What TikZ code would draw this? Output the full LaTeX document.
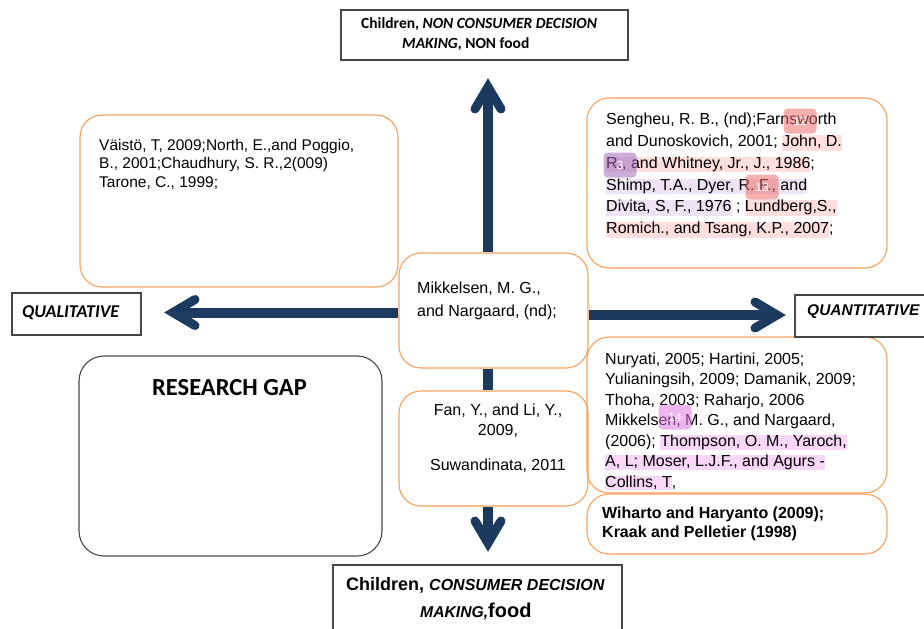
\documentclass[tikz,border=0pt]{standalone}
\usepackage{fontspec}
\setmainfont{Liberation Sans}
\newfontfamily\calibri{Carlito}
\definecolor{navy}{RGB}{28,58,96}
\definecolor{orng}{RGB}{248,160,90}
\definecolor{bord}{RGB}{70,70,70}
\definecolor{hlPink}{RGB}{255,222,222}
\definecolor{hlLav}{RGB}{238,228,245}
\definecolor{hlMag}{RGB}{250,215,248}
\definecolor{bRed}{RGB}{235,110,110}
\definecolor{bPur}{RGB}{160,110,190}
\definecolor{bMag}{RGB}{225,120,225}
\newcommand\stA{\rule[-4pt]{0pt}{15pt}}
\newcommand\stB{\rule[-2.5pt]{0pt}{12.5pt}}
\newcommand\hlA[2]{{\setlength{\fboxsep}{0pt}\colorbox{#1}{\stA#2}}}
\newcommand\hlB[2]{{\setlength{\fboxsep}{0pt}\colorbox{#1}{\stB#2}}}
\begin{document}
\begin{tikzpicture}[x=1pt,y=-1pt,
 obox/.style={draw=orng,line width=1.1pt,rounded corners=22pt,inner sep=0pt},
 kbox/.style={draw=bord,line width=1.1pt,inner sep=0pt},
 txt/.style={inner sep=0pt,align=left},
 shaft/.style={draw=navy,line width=10pt},
 chev/.style={draw=navy,line width=9pt,line cap=round,line join=miter},
 badge/.style={rounded corners=4pt,inner sep=0pt,minimum width=33pt,minimum height=25pt,fill opacity=0.55,text opacity=1,text=white,font=\fontsize{12}{12}\selectfont}
]
\useasboundingbox (0,0) rectangle (924,629);
\clip (0,0) rectangle (924,629);

% boxes
\node[kbox,minimum width=287pt,minimum height=50pt] (tb) at (484.5,35) {};
\node[obox,minimum width=318pt,minimum height=172pt] (ul) at (239,201) {};
\node[obox,minimum width=300pt,minimum height=170pt] (ur) at (737,183) {};
\node[obox,minimum width=189pt,minimum height=115pt] (ctr) at (493.5,310.5) {};
\node[obox,minimum width=189pt,minimum height=115pt] (fan) at (493.5,448.5) {};
\node[obox,minimum width=300pt,minimum height=156pt] (nur) at (737,415) {};
\node[obox,minimum width=300pt,minimum height=60pt] (wih) at (737,524) {};
\node[kbox,minimum width=129pt,minimum height=42pt] (qual) at (76.5,314) {};
\node[kbox,minimum width=140pt,minimum height=42pt] (quant) at (865,316) {};
\node[kbox,rounded corners=25pt,minimum width=303pt,minimum height=200pt] (gap) at (230.5,456) {};
\node[kbox,minimum width=289pt,minimum height=75pt] (bot) at (477.5,602.5) {};

% arrows
\coordinate (vUp) at (488,87);
\coordinate (vDn) at (488,543);
\coordinate (vL) at (173,312.5);
\coordinate (vR) at (777,315);
\draw[shaft] (vUp |- ctr.north) -- (vUp);
\draw[chev] ([shift={(-13,22)}]vUp) -- (vUp) -- ([shift={(13,22)}]vUp);
\draw[shaft] (vUp |- ctr.south) -- (vUp |- fan.north);
\draw[shaft] (vUp |- fan.south) -- (vDn);
\draw[chev] ([shift={(-13,-22)}]vDn) -- (vDn) -- ([shift={(13,-22)}]vDn);
\draw[shaft] (vL -| ctr.west) -- (vL);
\draw[chev] ([shift={(22,-13)}]vL) -- (vL) -- ([shift={(22,13)}]vL);
\draw[shaft] (vR -| ctr.east) -- (vR);
\draw[chev] ([shift={(-22,-13)}]vR) -- (vR) -- ([shift={(-22,13)}]vR);

% texts
\node[inner sep=0pt,anchor=base west,font=\calibri\bfseries\fontsize{15.5}{18}\selectfont] (tbt1) at (361,28) {Children, \textit{NON CONSUMER DECISION}};
\node[inner sep=0pt,anchor=base west,font=\calibri\bfseries\fontsize{15.5}{18}\selectfont] (tbt2) at (402,48) {\textit{MAKING}, NON food};

\node[txt,anchor=north west,font=\fontsize{15.5}{18.5}\selectfont] (ult) at (99,139) {\rule[-3pt]{0pt}{14pt}Väistö, T, 2009;North, E.,and Poggio,\\ B., 2001;Chaudhury, S. R.,2(009)\\ Tarone, C., 1999;};

\node[txt,anchor=north west,font=\fontsize{16}{21.8}\selectfont] (urt) at (606,113) {\stA Sengheu, R. B., (nd);Farnsworth\\ \stA and Dunoskovich,  2001; \hlA{hlPink}{John, D.}\\ \hlA{hlPink}{R., and  Whitney, Jr., J., 1986};\\ \hlA{hlLav}{Shimp, T.A., Dyer, R. F., and}\\ \hlA{hlLav}{Divita, S, F., 1976} ; \hlA{hlPink}{Lundberg,S.,}\\ \hlA{hlPink}{Romich.,  and Tsang, K.P., 2007};};

\node[txt,anchor=north west,font=\fontsize{16}{23}\selectfont] (ctrt) at (417,282) {\stA Mikkelsen, M. G.,\\ and Nargaard, (nd);};

\node[inner sep=0pt,align=center,anchor=north,font=\fontsize{16}{20}\selectfont] (fant) at (498,404) {\stA Fan, Y., and Li, Y.,\\ 2009,\\[15pt] Suwandinata, 2011};

\node[txt,anchor=north west,font=\fontsize{16}{20.5}\selectfont] (nurt) at (605,352.5) {\stB Nuryati, 2005; Hartini, 2005;\\ Yulianingsih, 2009; Damanik, 2009;\\ Thoha, 2003; Raharjo, 2006\\ Mikkelsen, M. G., and Nargaard,\\ (2006); \hlB{hlMag}{Thompson, O. M., Yaroch,}\\ \hlB{hlMag}{A, L; Moser, L.J.F., and Agurs -}\\ \hlB{hlMag}{Collins, T},};

\node[txt,anchor=north west,font=\bfseries\fontsize{16}{19}\selectfont] (wiht) at (602,504) {\rule{0pt}{14pt}Wiharto and Haryanto (2009);\\ Kraak and Pelletier (1998)};

\node[inner sep=0pt,anchor=base west,font=\calibri\bfseries\itshape\fontsize{18}{20}\selectfont] (qualt) at (22,317) {QUALITATIVE};
\node[inner sep=0pt,anchor=base west,font=\bfseries\itshape\fontsize{15.5}{18}\selectfont] (quantt) at (807,315) {QUANTITATIVE};
\node[inner sep=0pt,anchor=base west,font=\calibri\bfseries\fontsize{24.5}{26}\selectfont] (gapt) at (152,395) {RESEARCH GAP};

\node[inner sep=0pt,anchor=base west,font=\bfseries] (bt1) at (346,590) {\fontsize{18}{20}\selectfont Children, \fontsize{16}{20}\selectfont\itshape CONSUMER DECISION};
\node[inner sep=0pt,anchor=base west,font=\bfseries] (bt2) at (420,617) {\fontsize{15.7}{20}\selectfont\itshape MAKING,\fontsize{20}{22}\selectfont\upshape food};

% review badges
\node[badge,fill=bRed] (b12) at (800,121) {12};
\node[badge,fill=bPur] (b3) at (620,165) {3};
\node[badge,fill=bRed] (b13) at (762,187) {13};
\node[badge,fill=bMag] (b14) at (675,417) {14};
\end{tikzpicture}
\end{document}
